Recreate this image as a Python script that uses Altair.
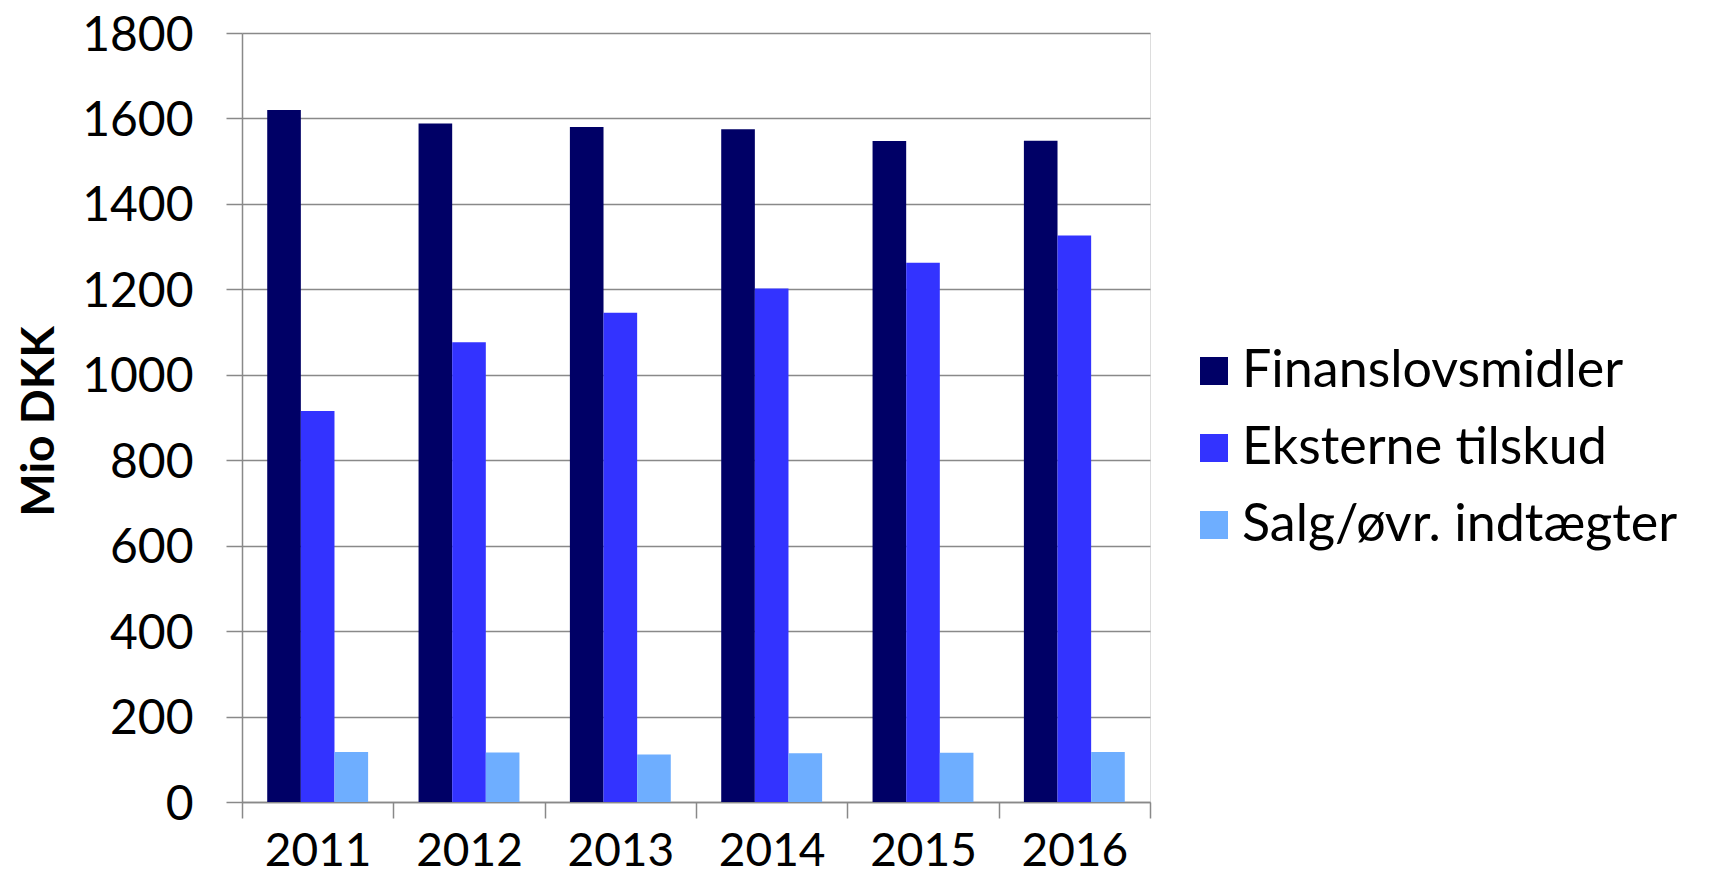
import altair as alt
import pandas as pd

years = ["2011", "2012", "2013", "2014", "2015", "2016"]
series = ["Finanslovsmidler", "Eksterne tilskud", "Salg/øvr. indtægter"]
finans = [1620, 1588, 1580, 1575, 1547, 1548]
eksterne = [915, 1076, 1145, 1202, 1262, 1326]
salg = [117, 116, 111, 114, 115, 117]
colors = ["#000066", "#3333FF", "#6EAEFF"]
y_ticks = [0, 200, 400, 600, 800, 1000, 1200, 1400, 1600, 1800]

rows = []
for name, vals in zip(series, [finans, eksterne, salg]):
    for yr, v in zip(years, vals):
        rows.append({"year": yr, "series": name, "value": v})
df = pd.DataFrame(rows)

gray = "#898989"
font = "Lato"

chart = alt.Chart(df).mark_bar().encode(
    x=alt.X(
        "year:N",
        sort=years,
        scale=alt.Scale(paddingInner=0, paddingOuter=0),
        axis=alt.Axis(
            title=None,
            tickBand="extent",
            ticks=True,
            tickSize=16,
            tickColor=gray,
            tickWidth=1.5,
            labelFontSize=46,
            labelFont=font,
            labelColor="#000000",
            labelPadding=11,
            labelAngle=0,
            domainColor=gray,
            domainWidth=1.5,
            grid=False,
        ),
    ),
    xOffset=alt.XOffset(
        "series:N", sort=series, scale=alt.Scale(paddingInner=0, paddingOuter=0.75)
    ),
    y=alt.Y(
        "value:Q",
        scale=alt.Scale(domain=[0, 1800], nice=False),
        axis=alt.Axis(
            values=y_ticks,
            format="d",
            title="Mio DKK",
            titleFont=font,
            titleFontSize=46,
            titleFontWeight="bold",
            titleColor="#000000",
            titleAngle=270,
            titleBaseline="alphabetic",
            titleAlign="center",
            titleX=-189,
            titleY=388,
            tickSize=16,
            tickColor=gray,
            tickWidth=1.5,
            labelFontSize=48,
            labelFont=font,
            labelColor="#000000",
            labelPadding=33,
            labelBaseline="alphabetic",
            labelOffset=17,
            domainColor=gray,
            domainWidth=1.5,
            grid=True,
            gridColor=gray,
            gridWidth=1.5,
        ),
    ),
    color=alt.Color(
        "series:N",
        sort=series,
        scale=alt.Scale(domain=series, range=colors),
        legend=alt.Legend(
            title=None,
            orient="none",
            legendX=946,
            legendY=312,
            symbolType="square",
            symbolSize=784,
            symbolStrokeWidth=0,
            labelFontSize=52,
            labelFont=font,
            labelColor="#000000",
            labelOffset=2,
            labelLimit=0,
            rowPadding=25,
            padding=0,
        ),
    ),
).properties(
    width=908,
    height=769,
    autosize=alt.AutoSizeParams(type="none"),
    padding={"left": 234, "top": 25, "right": 560, "bottom": 74},
).configure_view(stroke=None).configure(background="#ffffff")

chart.save("out.html", embed_options={"renderer": "svg", "actions": False})
